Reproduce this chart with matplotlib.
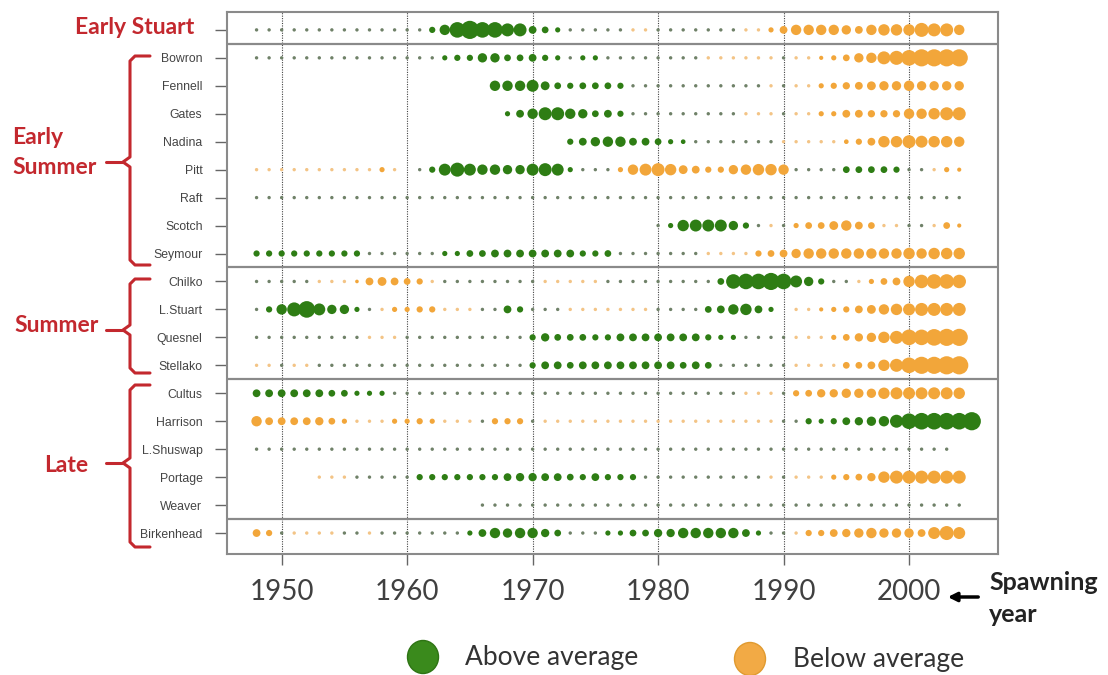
import numpy as np
import matplotlib
matplotlib.use("Agg")
import matplotlib.pyplot as plt
from matplotlib.patches import Ellipse

# ---------------- data ----------------
# value > 0 : above average (green), value < 0 : below average (orange)
# magnitude = relative bubble size ; t / b = tiny dot (near average)
t, b = 0.4, -0.4
N = None

stocks = ["Early Stuart", "Bowron", "Fennell", "Gates", "Nadina", "Pitt", "Raft",
          "Scotch", "Seymour", "Chilko", "L.Stuart", "Quesnel", "Stellako",
          "Cultus", "Harrison", "L.Shuswap", "Portage", "Weaver", "Birkenhead"]

first_year = [1948, 1948, 1967, 1968, 1973, 1948, 1948, 1980, 1948, 1948, 1948,
              1948, 1948, 1948, 1948, 1948, 1953, 1966, 1948]

early_stuart = [t, t, t, t, t, t, t, t, t, t, t, t, t, t,
                1.2, 2, 3, 3.5, 3, 3, 2.5, 2.5, 1.5, 1.3, 1,
                t, t, t, t, t, b, b, t, t, t, t, t, t, t, b, b,
                -1, -1.5, -2, -2, -2, -2, -1.8, -1.5, -2, -2.2, -2.2, -2.2, -2.7, -2.5, -2.5, -2]
bowron = [t, t, t, t, t, t, t, t, t, t, t, t, t, t, t,
          1, 1.2, 1.2, 1.8, 1.8, 1.3, 1.3, 1.5, 1.2, 1, t, 1, 1,
          t, t, t, t, t, t, t, t,
          b, b, b, b, b, b, t, b, b,
          -0.8, -1, -1.3, -1.8, -2, -2.5, -2.7, -3, -3.3, -3.3, -3.3, -3.3]
fennell = [2, 2, 2, 2.3, 1.7, 1.3, 1.2, 1.3, 1.3, 1.3, 1.2,
           t, t, t, t, t, t, t, t, t, t, t,
           b, t, b, b,
           -1, -1.2, -1.4, -1.5, -1.7, -1.8, -1.8, -2, -1.8, -1.8, -1.8, -1.8]
gates = [1, 1.5, 2, 2.5, 2.5, 2, 1.8, 1.3, 1.5, 1.2,
         t, t, t, t, t, t, t, t, t,
         b, b, b, t, b, b,
         -1, -1, -1.5, -1.5, -1.4, -1.4, -1.4, -2, -2, -2.2, -2.5, -2.5]
nadina = [1.2, 1.5, 1.8, 2, 2, 1.5, 1.5, 1.3, 1, 0.9,
          t, t, t, t, t, t, t,
          b, b, b, b, b,
          -0.9, -1.2, -1.5, -2.2, -2.2, -2.5, -2.3, -2.2, -2.2, -2]
pitt = [b, b, b, b, b, b, b, b, b, b,
        -1, b, N, t,
        1.2, 2.3, 2.7, 2.3, 2, 2, 1.8, 1.8, 2.3, 2.5, 2.3, 1,
        t, t, t,
        -1, -2, -2.3, -2.5, -2.2, -1.7, -1.5, -1.2, -1.2, -1.8, -2, -2.2, -2.2, -2,
        t, t, t, t,
        1.3, 1.3, 1.3, 1.3, 1.2,
        t, t, b, -1, -0.8]
raft = [t, t, t, t, t, t, t, t, t, t, t, t, t, t, t, t, t, t, t, t,
        t, t, t, t, t, t, t, t, t, t, t, t, t, t, t, t, t, t, t, t,
        t, t, t, t, t, t, t, t, t, t, t, t, t, t, t, t, t]
scotch = [0.5, 1, 2.2, 2.3, 2.3, 2.3, 1.8, 1.2, t, b, t,
          -1, -1.3, -1.3, -1.7, -2, -1.5, -1.3, b, b, t, t, b, -1.3, -0.8]
seymour = [1.2, 1.2, 1.2, 1.2, 1.2, 1.2, 1.2, 1.2, 1.2,
           t, t, t, t, t, t,
           1, 1, 1.3, 1.3, 1.5, 1.5, 1.5, 1.5, 1.5, 1.5, 1.5, 1.2, 1.2, 1.3,
           t, t, t, t, t, t, t,
           b, b, b, b,
           -1.2, -1.3, -1.5, -1.8, -2, -2, -2, -2, -2, -2, -2, -2, -2.2, -2, -2.2, -2.2, -2.2]
chilko = [t, t, t, t, t,
          b, b, b,
          -0.7, -1.5, -1.7, -1.5, -1.3, -1.2,
          b,
          t, t, t, t, t, t, t, t,
          b, b, b, b, b,
          t, t, t, t, t, t, t, t, t,
          1.3, 2.8, 3, 3, 3.3, 3, 2.3, 1.8, 1.2,
          t, t,
          b, -1, -1.3, -1.5, -2.2, -2.6, -2.8, -2.8, -2.6]
l_stuart = [t, 1.2, 2, 2.7, 3.2, 2.3, 1.8, 1.8, 1, t,
            b, -1, -1, -1.2, -1.2, b, b, b,
            t, t, 1.5, 1.2, t, t, t,
            b, b, b, b, b, b, b,
            t, t, t, t,
            1.3, 1.5, 2, 2.2, 1.5, 1,
            N,
            b, b, -0.8, -1, -1.2, -1.5, -1.7, -2, -2.2, -2.3, -2.5, -2.5, -2.5, -2.5]
quesnel = [t, t, t, t, t, t, t, t, t,
           b, b, b,
           t, t, t, t, t, t, t, t, t, t,
           1.2, 1.6, 1.3, 1.3, 1.3, 1.2, 1.2, 1.5, 1.5, 1.5, 1.5, 1.5, 1.5, 1.5, 1.2, 1, 1,
           t, t, t, t,
           b, b, b,
           -1, -1.3, -1.6, -1.8, -2.2, -2.5, -3, -3, -3.2, -3.3, -3.3]
stellako = [b, b, t, b, b,
            t, t, t, t, t, t, t, t, t, t, t, t, t, t, t, t, t,
            1.2, 1.5, 1.5, 1.3, 1.5, 1.5, 1.5, 1.5, 1.5, 1.5, 1.5, 1.5, 1.3, 1.5, 1.3,
            t, t, t, t, t, t,
            b, b, b, b,
            -1.3, -1.3, -1.5, -2.2, -2.5, -3, -3.3, -3.3, -3.5, -3.5]
cultus = [1.5, 1.5, 1.5, 1.5, 1.5, 1.5, 1.3, 1.3, 1, 1, 1,
          t, t, t, t, t, t, t, t, t, t, t, t, t, t,
          t, t, t, t, t, t, t, t, t, t, t, t, t, t,
          b, b, b, t,
          -1.2, -1.3, -1.6, -1.6, -1.8, -1.8, -1.8, -2.2, -2.3, -2.3, -2.3, -2.3, -2.3, -2.2]
harrison = [-2, -1.5, -1.5, -1.5, -1.5, -1.6, -1.3, -1,
            b, b, b,
            -1, -1, -1.2, -1,
            b, b, b, t,
            -1.2, -1.2, -1.2, t,
            b, b, b, b, b, b, b, b, b, b, b, b, b, b, b, b, b, b, b,
            t, t,
            1.2, 1, 1.2, 1.5, 1.6, 1.8, 2, 2.5, 3, 3.2, 3.2, 3.2, 3.2, 3.5]
l_shuswap = [t, t, t, t, t, t, t, t, t, t, t, t, t, t, t, t, t, t, t, t,
             t, t, t, t, t, t, t, t, t, t, t, t, t, t, t, t, t, t, t, t,
             t, t, t, t, t, t, t, t, t, t, t, t, t, t, t, t]
portage = [b, b, b,
           t, t, t, t, t,
           1.2, 1.2, 1.2, 1.2, 1.2, 1.2, 1.2, 1.5, 1.6, 1.6, 1.5, 1.5, 1.3, 1.2, 1.5, 1.2, 1.2, 1.2,
           t, t, t, t, t, t, t, t, t, t,
           b, t, b, b, b,
           -1, -1.2, -1.3, -1.6, -2.2, -2.5, -2.5, -2.5, -2.5, -2.5, -2.5]
weaver = [t, t, t, t, t, t, t, t, t, t, t, t, t, t, t, t, t, t, t, t,
          t, t, t, t, t, t, t, t, t, t, t, t, t, t, t, t, t, t, t]
birkenhead = [-1.5, -1.2, t, b, b, b, b, t, t, b, t, t, t, t, t, t, t,
              1, 1.5, 2, 1.8, 2, 2, 1.6, 1.3,
              t, t, t,
              1, 1, 1.3, 1.3, 1.6, 1.6, 2, 2, 2, 2, 2, 1.5, 1,
              t, t,
              b, -1.2, -1.2, -1.5, -1.6, -1.8, -2, -1.8, -1.8, -1.8, -1.5, -2.3, -2.7, -2.3]

rows = [early_stuart, bowron, fennell, gates, nadina, pitt, raft, scotch, seymour,
        chilko, l_stuart, quesnel, stellako, cultus, harrison, l_shuswap, portage,
        weaver, birkenhead]

decades = [1950, 1960, 1970, 1980, 1990, 2000]
separators = [0.5, 8.5, 12.5, 17.5]

GREEN = "#2e7d14"
ORANGE = "#f2a63a"
GREEN_T = "#6f8168"
ORANGE_T = "#f3c486"
RED = "#c3282e"

# ---------------- figure ----------------
fig = plt.figure(figsize=(11.08, 6.75), dpi=100)

ov = fig.add_axes([0, 0, 1, 1], zorder=0)
ov.set_xlim(0, 1108)
ov.set_ylim(675, 0)
ov.axis("off")

ax = fig.add_axes([226.7 / 1108, 1 - 554 / 675, (998 - 226.7) / 1108, (554 - 12) / 675], zorder=1)
ax.patch.set_alpha(0)

for i, (vals, y0) in enumerate(zip(rows, first_year)):
    v = np.array([np.nan if x is None else x for x in vals], dtype=float)
    yrs = y0 + np.arange(len(v))
    m = ~np.isnan(v)
    v, yrs = v[m], yrs[m]
    cols = []
    for x in v:
        if abs(x) < 0.6:
            cols.append(GREEN_T if x > 0 else ORANGE_T)
        else:
            cols.append(GREEN if x > 0 else ORANGE)
    sizes = np.maximum(14.0 * v ** 2, 6.0)
    ax.scatter(yrs, np.full(len(v), i), s=sizes, c=cols, linewidths=0, zorder=3)

for d in decades:
    ax.axvline(d, color="#444444", lw=0.8, ls=(0, (1, 1.2)), zorder=1)
for s in separators:
    ax.axhline(s, color="#8a8a8a", lw=1.6, zorder=2)

ax.set_xlim(1945.62, 2007.09)
ax.set_ylim(18.75, -0.64)
ax.set_yticks(range(len(stocks)))
ax.set_yticklabels(["" if k == 0 else n for k, n in enumerate(stocks)],
                   fontfamily="Liberation Sans", fontsize=8.8, color="#444444")
ax.set_xticks(decades)
ax.set_xticklabels([str(d) for d in decades], fontfamily="Lato", fontsize=20, color="#404040")
ax.tick_params(axis="y", length=8.5, pad=9, color="#666666", width=1)
ax.tick_params(axis="x", length=8, pad=10, color="#666666", width=1)
for sp in ax.spines.values():
    sp.set_color("#8a8a8a")
    sp.set_linewidth(1.5)

# ---------------- annotations ----------------
tf = dict(color=RED, fontweight="bold", fontfamily="Lato", fontsize=16.5, va="center")
ov.text(135, 27, "Early Stuart", ha="center", **tf)
ov.text(12, 137, "Early", ha="left", **tf)
ov.text(12, 168, "Summer", ha="left", **tf)
ov.text(57, 325, "Summer", ha="center", **tf)
ov.text(66, 465, "Late", ha="center", **tf)


def brace(top, mid, bot, xv=130, xend=150, xtip=123, xconn=106):
    xs = [xend, xv + 5, xv, xv, xtip, xv, xv, xv + 5, xend]
    ys = [top, top, top + 5, mid - 5, mid, mid + 5, bot - 5, bot, bot]
    ov.plot(xs, ys, color=RED, lw=2.2, solid_joinstyle="round", solid_capstyle="round")
    ov.plot([xconn, xtip], [mid, mid], color=RED, lw=2.2, solid_capstyle="round")


brace(56, 162, 265)
brace(279, 330, 373)
brace(385, 463, 547)

ov.annotate("", xy=(945, 597), xytext=(981, 597),
            arrowprops=dict(arrowstyle="-|>", color="black", lw=2.5, mutation_scale=13))
ov.text(989, 583, "Spawning", ha="left", va="center", fontweight="bold",
        fontfamily="Lato", fontsize=18, color="#222222")
ov.text(989, 615, "year", ha="left", va="center", fontweight="bold",
        fontfamily="Lato", fontsize=18, color="#222222")

ov.add_patch(Ellipse((423, 657), 31, 33, facecolor="#3a8a1c", edgecolor="#2e7414", lw=1))
ov.add_patch(Ellipse((750, 659), 31, 33, facecolor="#f2aa45", edgecolor="#e09a30", lw=1))
ov.text(465, 657, "Above average", ha="left", va="center", fontfamily="Lato",
        fontsize=19, color="#333333")
ov.text(793, 659, "Below average", ha="left", va="center", fontfamily="Lato",
        fontsize=19, color="#333333")

fig.savefig("out.png", dpi=100)
